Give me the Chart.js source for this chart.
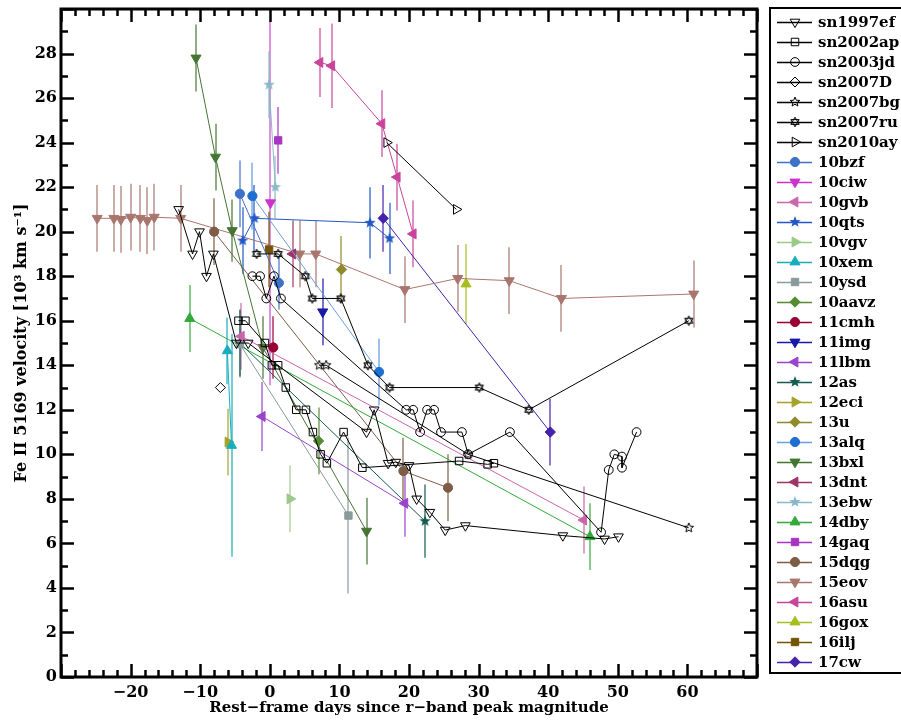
<!DOCTYPE html>
<html>
<head>
<meta charset="utf-8">
<script src="https://cdn.jsdelivr.net/npm/chart.js@4.4.1/dist/chart.umd.min.js"></script>
<style>
  body { margin: 0; background: #fff; }
  #wrap { width: 901px; height: 720px; }
</style>
</head>
<body>
<div id="wrap"><canvas id="chart" width="901" height="720"></canvas></div>
<script>
// ---- data (days since r-band peak, Fe II velocity in 1000 km/s, 1-sigma) ----
const sn1997efDays = [-13.1, -11.1, -10.1, -9.1, -8.1, -4.8, -3.1, 13.9, 15.0, 17.0, 18.1, 20.0, 21.1, 23.0, 25.2, 28.1, 42.1, 48.1, 50.1];
const sn1997efVel  = [21.0, 19.0, 20.0, 18.0, 19.0, 15.0, 15.0, 11.0, 12.0, 9.6, 9.65, 9.5, 8.0, 7.4, 6.6, 6.8, 6.35, 6.2, 6.3];

const sn2002apDays = [-4.5, -3.5, -0.7, 0.3, 1.2, 2.3, 3.8, 5.2, 6.2, 7.3, 8.2, 10.6, 13.3, 27.2, 31.3, 32.2];
const sn2002apVel  = [16.0, 16.0, 15.0, 14.0, 14.0, 13.0, 12.0, 12.0, 11.0, 10.0, 9.6, 11.0, 9.4, 9.7, 9.55, 9.6];

const sn2003jdDays = [-2.5, -1.4, -0.5, 0.6, 1.6, 19.6, 20.6, 21.6, 22.6, 23.6, 24.6, 27.6, 28.5, 34.5, 47.6, 48.7, 49.5, 50.6, 50.6, 52.7];
const sn2003jdVel  = [18.0, 18.0, 17.0, 18.0, 17.0, 12.0, 12.0, 11.0, 12.0, 12.0, 11.0, 11.0, 10.0, 11.0, 6.5, 9.3, 10.0, 9.9, 9.4, 11.0];

const sn2007dDays = [-7.1];
const sn2007dVel  = [13.0];

const sn2007bgDays = [7.1, 8.1, 28.5, 60.2];
const sn2007bgVel  = [14.0, 14.0, 10.0, 6.7];

const sn2007ruDays = [-1.9, 1.2, 5.1, 6.1, 10.2, 14.1, 17.2, 30.1, 37.2, 60.2];
const sn2007ruVel  = [19.0, 19.0, 18.0, 17.0, 17.0, 14.0, 13.0, 13.0, 12.0, 16.0];

const sn2010ayDays = [16.8, 26.8];
const sn2010ayVel  = [24.0, 21.0];

const p10bzfDays = [-4.3, 1.3];       const p10bzfVel = [21.7, 17.7];   const p10bzfErr = [1.5, 1.2];
const p10ciwDays = [0.1];             const p10ciwVel = [21.3];         const p10ciwErr = [8.2];
const p10gvbDays = [-4.1, 45.1];      const p10gvbVel = [15.3, 7.05];   const p10gvbErr = [1.5, 1.5];
const p10qtsDays = [-3.9, -2.2, 14.4, 17.2]; const p10qtsVel = [19.6, 20.6, 20.4, 19.7]; const p10qtsErr = [1.5, 1.5, 1.6, 1.6];
const p10vgvDays = [2.9];             const p10vgvVel = [8.0];          const p10vgvErr = [1.5];
const p10xemDays = [-6.1, -5.5];      const p10xemVel = [14.65, 10.4];  const p10xemErr = [1.5, 5.0];
const p10ysdDays = [-4.3, 11.3];      const p10ysdVel = [14.95, 7.25];  const p10ysdErr = [1.5, 3.5];
const p10aavzDays = [7.0];            const p10aavzVel = [10.6];        const p10aavzErr = [1.5];
const p11cmhDays = [0.5];             const p11cmhVel = [14.8];         const p11cmhErr = [1.4];
const p11imgDays = [7.6];             const p11imgVel = [16.4];         const p11imgErr = [1.5];
const p11lbmDays = [-1.1, 19.4];      const p11lbmVel = [11.7, 7.8];    const p11lbmErr = [1.55, 1.5];
const p12asDays = [-4.3, 22.3];       const p12asVel = [15.0, 7.0];     const p12asErr = [1.5, 1.65];
const p12eciDays = [-6.0];            const p12eciVel = [10.55];        const p12eciErr = [1.5];
const p13uDays = [10.3];              const p13uVel = [18.3];           const p13uErr = [1.5];
const p13alqDays = [-2.5, 15.7];      const p13alqVel = [21.6, 13.7];   const p13alqErr = [1.5, 1.5];
const p13bxlDays = [-10.6, -7.8, -5.4, -1.0, 13.9]; const p13bxlVel = [27.8, 23.35, 20.05, 14.8, 6.55]; const p13bxlErr = [1.5, 1.5, 1.4, 1.4, 1.5];
const p13dntDays = [3.3];             const p13dntVel = [19.0];         const p13dntErr = [1.5];
const p13ebwDays = [-0.1, 0.8];       const p13ebwVel = [26.6, 22.0];   const p13ebwErr = [1.5, 1.4];
const p14dbyDays = [-11.5, 46.0];     const p14dbyVel = [16.1, 6.3];    const p14dbyErr = [1.5, 1.5];
const p14gaqDays = [1.2];             const p14gaqVel = [24.1];         const p14gaqErr = [1.5];
const p15dqgDays = [-8.0, 19.2, 25.6]; const p15dqgVel = [20.0, 9.25, 8.5]; const p15dqgErr = [1.5, 1.5, 1.5];
const p15eovDays = [-24.8, -22.4, -21.4, -20.0, -18.6, -17.6, -16.6, -12.8, 4.3, 6.6, 19.4, 27.0, 34.4, 41.9, 60.9];
const p15eovVel  = [20.6, 20.6, 20.55, 20.65, 20.6, 20.5, 20.65, 20.6, 19.0, 19.0, 17.4, 17.9, 17.8, 17.0, 17.2];
const p15eovErr  = [1.5, 1.5, 1.5, 1.5, 1.5, 1.5, 1.5, 1.5, 1.5, 1.5, 1.5, 1.5, 1.5, 1.5, 1.5];
const p16asuDays = [7.2, 8.9, 16.1, 18.3, 20.6]; const p16asuVel = [27.6, 27.45, 24.85, 22.45, 19.9]; const p16asuErr = [1.55, 1.9, 1.5, 1.5, 1.5];
const p16goxDays = [28.2];            const p16goxVel = [17.65];        const p16goxErr = [1.8];
const p16iljDays = [-0.1];            const p16iljVel = [19.2];         const p16iljErr = [1.7];
const p17cwDays = [16.3, 40.3];       const p17cwVel = [20.6, 11.0];    const p17cwErr = [1.5, 1.5];

const xTickStep = 10;
const yTickStep = 2;

// ---- marker shapes the library lacks ----
function starImg(n, outer, inner, fill, stroke, lw) {
  const s = Math.ceil(outer * 2 + lw * 2 + 2);
  const c = document.createElement('canvas');
  c.width = c.height = s;
  const g = c.getContext('2d');
  g.translate(s / 2, s / 2);
  g.beginPath();
  for (let i = 0; i < 2 * n; i++) {
    const r = i % 2 ? inner : outer;
    const a = -Math.PI / 2 + i * Math.PI / n;
    g.lineTo(r * Math.cos(a), r * Math.sin(a));
  }
  g.closePath();
  if (fill) { g.fillStyle = fill; g.fill(); }
  if (stroke) { g.strokeStyle = stroke; g.lineWidth = lw; g.stroke(); }
  return c;
}
// outline hexagram (two crossing triangles)
function hexagramImg(r, stroke) {
  const s = Math.ceil(r * 2 + 4);
  const c = document.createElement('canvas');
  c.width = c.height = s;
  const g = c.getContext('2d');
  g.translate(s / 2, s / 2);
  g.strokeStyle = stroke; g.lineWidth = 1;
  [-Math.PI / 2, Math.PI / 2].forEach(a0 => {
    g.beginPath();
    for (let i = 0; i < 3; i++) {
      const a = a0 + i * 2 * Math.PI / 3;
      g.lineTo(r * Math.cos(a), r * Math.sin(a));
    }
    g.closePath(); g.stroke();
  });
  return c;
}

const DOWN = 180, RIGHT = 90, LEFT = 270;

function sn(label, days, vel, pointStyle, radius, rotation) {
  return {
    label, data: days.map((d, i) => ({ x: d, y: vel[i] })),
    showLine: true, borderColor: '#000', backgroundColor: 'rgba(255,255,255,0)',
    borderWidth: 1, pointBorderWidth: 1, pointRadius: radius, pointStyle, rotation: rotation || 0,
    legendLine: '#000'
  };
}
function obj(label, days, vel, err, color, pointStyle, radius, rotation, errColor, lineColor) {
  return {
    label, data: days.map((d, i) => ({ x: d, y: vel[i], e: err[i] })),
    showLine: true, borderColor: lineColor || color, backgroundColor: color,
    pointBorderColor: color, borderWidth: 1, pointBorderWidth: 1, pointRadius: radius,
    pointStyle, rotation: rotation || 0,
    errColor: errColor || color + '99', legendLine: lineColor || color
  };
}

const TRI = 5.8, CIR = 4.6, SQ = 5.2, DIA = 5.2;

const datasets = [
  sn('sn1997ef', sn1997efDays, sn1997efVel, 'triangle', 5.6, DOWN),
  sn('sn2002ap', sn2002apDays, sn2002apVel, 'rect', 5.3),
  sn('sn2003jd', sn2003jdDays, sn2003jdVel, 'circle', 4.4),
  sn('sn2007D', sn2007dDays, sn2007dVel, 'rectRot', 5),
  sn('sn2007bg', sn2007bgDays, sn2007bgVel, starImg(5, 5, 2.2, null, '#000', 1), 5),
  sn('sn2007ru', sn2007ruDays, sn2007ruVel, hexagramImg(4.8, '#000'), 5),
  sn('sn2010ay', sn2010ayDays, sn2010ayVel, 'triangle', 5.6, RIGHT),
  obj('10bzf', p10bzfDays, p10bzfVel, p10bzfErr, '#3d72c9', 'circle', CIR),
  obj('10ciw', p10ciwDays, p10ciwVel, p10ciwErr, '#cc33cc', 'triangle', TRI, DOWN, '#e090e0'),
  obj('10gvb', p10gvbDays, p10gvbVel, p10gvbErr, '#cc66aa', 'triangle', TRI, LEFT),
  obj('10qts', p10qtsDays, p10qtsVel, p10qtsErr, '#2257c4', starImg(5, 6, 2.5, '#2257c4', null, 0), 6),
  obj('10vgv', p10vgvDays, p10vgvVel, p10vgvErr, '#9cc98a', 'triangle', TRI, RIGHT),
  obj('10xem', p10xemDays, p10xemVel, p10xemErr, '#17adbd', 'triangle', TRI),
  obj('10ysd', p10ysdDays, p10ysdVel, p10ysdErr, '#889a9a', 'rect', SQ),
  obj('10aavz', p10aavzDays, p10aavzVel, p10aavzErr, '#558b33', 'rectRot', DIA),
  obj('11cmh', p11cmhDays, p11cmhVel, p11cmhErr, '#990036', 'circle', CIR),
  obj('11img', p11imgDays, p11imgVel, p11imgErr, '#1a1aa8', 'triangle', TRI, DOWN),
  obj('11lbm', p11lbmDays, p11lbmVel, p11lbmErr, '#9944cc', 'triangle', TRI, LEFT),
  obj('12as', p12asDays, p12asVel, p12asErr, '#145c50', starImg(5, 6, 2.5, '#145c50', null, 0), 6),
  obj('12eci', p12eciDays, p12eciVel, p12eciErr, '#a3a32a', 'triangle', TRI, RIGHT),
  obj('13u', p13uDays, p13uVel, p13uErr, '#8f8a2a', 'rectRot', DIA),
  obj('13alq', p13alqDays, p13alqVel, p13alqErr, '#1f6fd2', 'circle', CIR, 0, '#6fa0e0aa', '#6a9ee0'),
  obj('13bxl', p13bxlDays, p13bxlVel, p13bxlErr, '#467533', 'triangle', TRI, DOWN),
  obj('13dnt', p13dntDays, p13dntVel, p13dntErr, '#9e3366', 'triangle', TRI, LEFT),
  obj('13ebw', p13ebwDays, p13ebwVel, p13ebwErr, '#8ab8c8', starImg(5, 6, 2.5, '#8ab8c8', null, 0), 6),
  obj('14dby', p14dbyDays, p14dbyVel, p14dbyErr, '#33aa3a', 'triangle', TRI),
  obj('14gaq', p14gaqDays, p14gaqVel, p14gaqErr, '#a835c0', 'rect', SQ),
  obj('15dqg', p15dqgDays, p15dqgVel, p15dqgErr, '#7d5d45', 'circle', CIR),
  obj('15eov', p15eovDays, p15eovVel, p15eovErr, '#a9766e', 'triangle', TRI, DOWN),
  obj('16asu', p16asuDays, p16asuVel, p16asuErr, '#c8449c', 'triangle', TRI, LEFT),
  obj('16gox', p16goxDays, p16goxVel, p16goxErr, '#a8be1c', 'triangle', TRI),
  obj('16ilj', p16iljDays, p16iljVel, p16iljErr, '#735400', 'rect', SQ),
  obj('17cw', p17cwDays, p17cwVel, p17cwErr, '#4422aa', 'rectRot', DIA)
];

// vertical error bars under the markers
const errorBars = {
  id: 'errorBars',
  beforeDatasetsDraw(chart) {
    const { ctx, chartArea: a, scales: { x, y } } = chart;
    ctx.save();
    ctx.beginPath(); ctx.rect(a.left, a.top, a.right - a.left, a.bottom - a.top); ctx.clip();
    ctx.lineWidth = 2;
    chart.data.datasets.forEach(ds => {
      if (!ds.errColor) return;
      ctx.strokeStyle = ds.errColor;
      ds.data.forEach(p => {
        if (!p.e) return;
        const px = Math.round(x.getPixelForValue(p.x));
        ctx.beginPath();
        ctx.moveTo(px, y.getPixelForValue(p.y - p.e));
        ctx.lineTo(px, y.getPixelForValue(p.y + p.e));
        ctx.stroke();
      });
    });
    ctx.restore();
  }
};

// box frame with inward ticks on all four sides
const frame = {
  id: 'frame',
  afterDraw(chart) {
    const { ctx, chartArea: a, scales: { x, y } } = chart;
    ctx.save();
    ctx.strokeStyle = '#000';
    ctx.lineWidth = 2.5;
    ctx.beginPath();
    for (let v = x.min; v <= x.max; v += 2) {
      const px = Math.round(x.getPixelForValue(v)) + 0.5;
      const len = v % xTickStep === 0 ? 13 : 7;
      ctx.moveTo(px, a.bottom); ctx.lineTo(px, a.bottom - len);
      ctx.moveTo(px, a.top); ctx.lineTo(px, a.top + len);
    }
    for (let v = y.min; v <= y.max; v += 1) {
      const py = Math.round(y.getPixelForValue(v)) + 0.5;
      const len = v % yTickStep === 0 ? 13 : 7;
      ctx.moveTo(a.left, py); ctx.lineTo(a.left + len, py);
      ctx.moveTo(a.right, py); ctx.lineTo(a.right - len, py);
    }
    ctx.stroke();
    ctx.lineWidth = 3;
    ctx.strokeRect(a.left, a.top, a.right - a.left, a.bottom - a.top);
    ctx.restore();
  }
};

function drawMarker(ctx, ds, cx, cy) {
  ctx.fillStyle = ds.backgroundColor;
  ctx.strokeStyle = ds.pointBorderColor || ds.borderColor;
  ctx.lineWidth = ds.pointBorderWidth;
  Chart.helpers.drawPoint(ctx, { pointStyle: ds.pointStyle, rotation: ds.rotation, radius: ds.pointRadius, borderWidth: ds.pointBorderWidth }, cx, cy);
}

// boxed legend at the right, line + marker + name
const sideLegend = {
  id: 'sideLegend',
  afterDraw(chart) {
    const { ctx } = chart;
    ctx.save();
    ctx.strokeStyle = '#000';
    ctx.lineWidth = 2;
    ctx.strokeRect(770, 8, 140, 665);
    ctx.font = 'bold 15px "DejaVu Serif"';
    ctx.textBaseline = 'middle';
    chart.data.datasets.forEach((ds, i) => {
      const cy = 22 + i * 20;
      ctx.strokeStyle = ds.legendLine;
      ctx.lineWidth = 1.5;
      ctx.beginPath(); ctx.moveTo(777, cy + 0.5); ctx.lineTo(812, cy + 0.5); ctx.stroke();
      drawMarker(ctx, ds, 795, cy);
      ctx.fillStyle = '#000';
      ctx.fillText(ds.label, 818, cy + 1);
    });
    ctx.restore();
  }
};

Chart.defaults.font.family = '"DejaVu Serif", serif';
Chart.defaults.font.weight = 'bold';
Chart.defaults.color = '#000';

new Chart(document.getElementById('chart'), {
  type: 'scatter',
  data: { datasets },
  options: {
    responsive: false,
    devicePixelRatio: 1,
    animation: false,
    layout: { padding: { top: 9, right: 144, left: 0, bottom: 0 } },
    plugins: { legend: { display: false }, tooltip: { enabled: false } },
    scales: {
      x: {
        type: 'linear', min: -30, max: 70,
        grid: { display: false, drawTicks: false },
        border: { display: false },
        ticks: {
          stepSize: xTickStep, padding: 6, font: { size: 16, weight: 'bold' },
          callback: v => (v === -30 || v === 70) ? '' : (v < 0 ? '\u2212' + Math.abs(v) : String(v))
        },
        title: { display: true, text: 'Rest\u2212frame days since r\u2212band peak magnitude', font: { size: 15, weight: 'bold' }, padding: { top: 0, bottom: 3 } },
        afterFit: s => { s.height = 43; s.paddingLeft = 0; s.paddingRight = 0; }
      },
      y: {
        type: 'linear', min: 0, max: 30,
        grid: { display: false, drawTicks: false },
        border: { display: false },
        ticks: {
          stepSize: yTickStep, padding: 4, font: { size: 16, weight: 'bold' },
          callback: v => v === 30 ? '' : String(v)
        },
        title: { display: true, text: 'Fe II 5169 velocity [10\u00b3 km s\u207b\u00b9]', font: { size: 16, weight: 'bold' }, padding: { top: 12, bottom: 0 } },
        afterFit: s => { s.width = 61; s.paddingTop = 0; s.paddingBottom = 0; }
      }
    }
  },
  plugins: [errorBars, frame, sideLegend]
});
</script>
</body>
</html>
